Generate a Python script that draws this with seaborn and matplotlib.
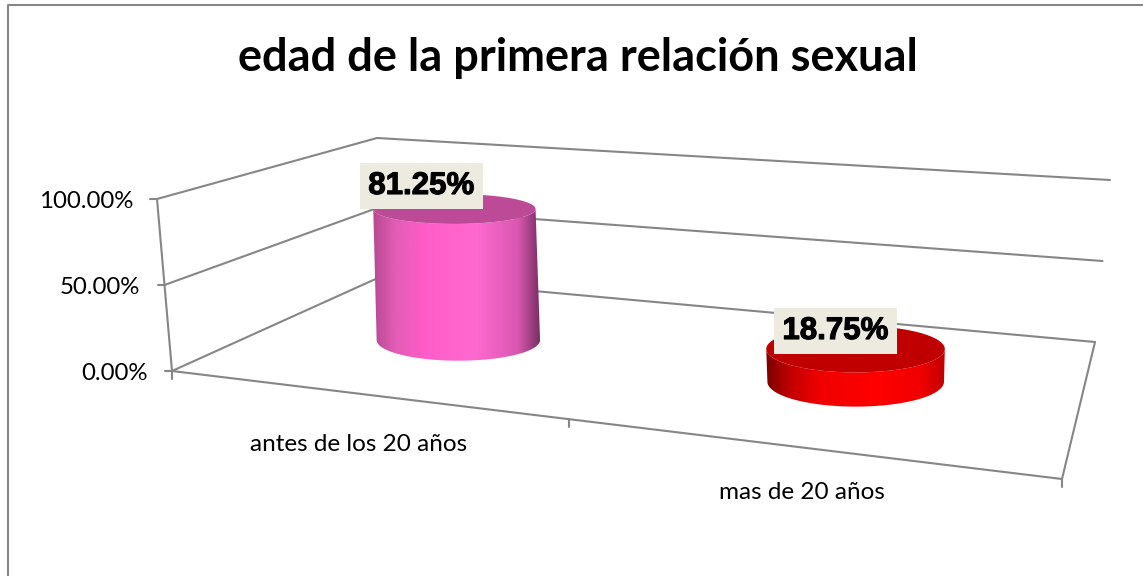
import numpy as np
import pandas as pd
import matplotlib
matplotlib.use("Agg")
import matplotlib.pyplot as plt
import matplotlib.patheffects as pe
from matplotlib.colors import LinearSegmentedColormap
from matplotlib.patches import Polygon
import seaborn as sns

# Datos
categories = ["antes de los 20 años", "mas de 20 años"]
values = [81.25, 18.75]
axis_ticks = [0, 50, 100]
title = "edad de la primera relación sexual"

# Colores de cada cilindro
top_colors = ["#BD4A96", "#C00000"]
body_colors = [
    ["#B84A92", "#E05CB4", "#FF5CC8", "#FF69D0", "#D858B0", "#7C2E64"],
    ["#7A0000", "#C00000", "#F00000", "#FF0000", "#F00000", "#C00000"],
]
grid_color = "#868686"

# Esquinas de la caja 3D en pixeles (frente-izq, frente-der, fondo-der, fondo-izq)
floor_box = [(172, 371), (1062, 479), (1095, 342), (380, 277)]
roof_box = [(157, 199), (1078, 277), (1110, 180), (377, 138)]
radius_u = [0.113, 0.101]
radius_v = 0.2
center_u_shift = 0.006
center_v = 0.47
lean = 0.4
label_offset = [(-33, -23), (-20, -18)]
category_offset = [(-2, 51), (0, 45)]


def homography(corners):
    src = [(0, 0), (1, 0), (1, 1), (0, 1)]
    a, b = [], []
    for (u, v), (x, y) in zip(src, corners):
        a.append([u, v, 1, 0, 0, 0, -u * x, -v * x])
        a.append([0, 0, 0, u, v, 1, -u * y, -v * y])
        b += [x, y]
    return np.append(np.linalg.solve(np.array(a, float), np.array(b, float)), 1).reshape(3, 3)


H_floor = homography(floor_box)
H_roof = homography(roof_box)


def project(u, v, value=0):
    u, v = np.asarray(u, float), np.asarray(v, float)
    pts = np.stack([u, v, np.ones_like(u)])
    low = H_floor @ pts
    high = H_roof @ pts
    low = low[:2] / low[2]
    high = high[:2] / high[2]
    return low + (high - low) * value / 100


def disc_center(c, value):
    base_x = project(c, center_v)[0]
    cx, cy = project(c, center_v, value)
    return base_x + lean * (cx - base_x), cy


def disc(c, r, value, t):
    # Elipse horizontal a la altura del valor
    cx, cy = disc_center(c, value)
    a = abs(project(c + r, center_v, value)[0] - project(c - r, center_v, value)[0]) / 2
    b = abs(project(c, center_v + radius_v, value)[1] - project(c, center_v - radius_v, value)[1]) / 2
    return np.column_stack([cx + a * np.cos(t), cy + b * np.sin(t)])


sns.set_theme(style="white")
plt.rcParams["font.family"] = ["Lato", "DejaVu Sans"]

fig = plt.figure(figsize=(11.43, 5.76), dpi=100)
ax = fig.add_axes([0, 0, 1, 1])

# Marco exterior: izquierda y arriba, lo demas queda fuera de la imagen
frame_df = pd.DataFrame({"x": [8, 8, 1143], "y": [576, 5, 5]})
sns.lineplot(data=frame_df, x="x", y="y", estimator=None, sort=False,
             color=grid_color, lw=1.5, ax=ax)

# Rejilla de las paredes
rows = []
n_line = 0
for tick in axis_ticks:
    for u, v in [(0, 0), (0, 1), (1, 1)]:
        x, y = project(u, v, tick)
        rows.append({"x": x, "y": y, "line": n_line})
    n_line += 1
# Solo la arista vertical delantera del eje
for tick in [axis_ticks[0], axis_ticks[-1]]:
    x, y = project(0, 0, tick)
    rows.append({"x": x, "y": y, "line": n_line})
n_line += 1
for u, v in [(0, 0), (1, 0), (1, 1)]:
    x, y = project(u, v)
    rows.append({"x": x, "y": y, "line": n_line})
n_line += 1
# Marcas de las categorias
for u in np.linspace(0, 1, len(categories) + 1):
    x, y = project(u, 0)
    rows.append({"x": x, "y": y, "line": n_line})
    rows.append({"x": x, "y": y + 8, "line": n_line})
    n_line += 1
# Marcas del eje de valores
for tick in axis_ticks:
    x, y = project(0, 0, tick)
    rows.append({"x": x, "y": y, "line": n_line})
    rows.append({"x": x - 7, "y": y, "line": n_line})
    n_line += 1
grid_df = pd.DataFrame(rows)
sns.lineplot(data=grid_df, x="x", y="y", units="line", estimator=None, sort=False,
             color=grid_color, lw=1.5, ax=ax, zorder=2)

for tick in axis_ticks:
    x, y = project(0, 0, tick)
    ax.text(x - 24, y + 3, f"{tick:.2f}%", ha="right", va="center",
            fontsize=17.3, color="black")

# Cilindros
t_front = np.linspace(0, np.pi, 121)
t_full = np.linspace(0, 2 * np.pi, 241)
for i, (cat, val) in enumerate(zip(categories, values)):
    c = (i + 0.5) / len(categories)
    cc = c + center_u_shift
    body = np.vstack([disc(cc, radius_u[i], 0, t_front), disc(cc, radius_u[i], val, t_front)[::-1]])
    top = disc(cc, radius_u[i], val, t_full)

    cmap = LinearSegmentedColormap.from_list(
        f"cyl{i}", list(zip([0, 0.13, 0.3, 0.62, 0.87, 1], body_colors[i])))
    xmin, xmax = body[:, 0].min(), body[:, 0].max()
    ymin, ymax = body[:, 1].min(), body[:, 1].max()
    img = ax.imshow(np.linspace(0, 1, 256)[None, :], cmap=cmap, aspect="auto",
                    extent=[xmin, xmax, ymax, ymin], zorder=3)
    clip = Polygon(body, closed=True, transform=ax.transData, fc="none", ec="none")
    ax.add_patch(clip)
    img.set_clip_path(clip)
    ax.add_patch(Polygon(top, closed=True, fc=top_colors[i], ec="none", zorder=4))

    # Etiqueta de datos
    cx, cy = disc_center(cc, val)
    txt = ax.text(cx + label_offset[i][0], cy + label_offset[i][1], f"{val:.2f}%",
                  ha="center", va="center", family="Liberation Sans", fontweight="bold",
                  fontsize=22.5, color="black", zorder=6,
                  bbox=dict(boxstyle="square,pad=0.26", fc="#EDEBE0", ec="none"))
    txt.set_path_effects([pe.withStroke(linewidth=0.8, foreground="black")])

    # Nombre de la categoria
    fx, fy = project(c, 0)
    ax.text(fx + category_offset[i][0], fy + category_offset[i][1], cat,
            ha="center", va="center", fontsize=17.5, color="black")

ax.text(578, 58, title, ha="center", va="center", fontsize=32.5, fontweight="bold", color="black")

ax.set_xlim(0, 1143)
ax.set_ylim(576, 0)
ax.set_axis_off()
fig.savefig("out.png", dpi=100, facecolor="white")
